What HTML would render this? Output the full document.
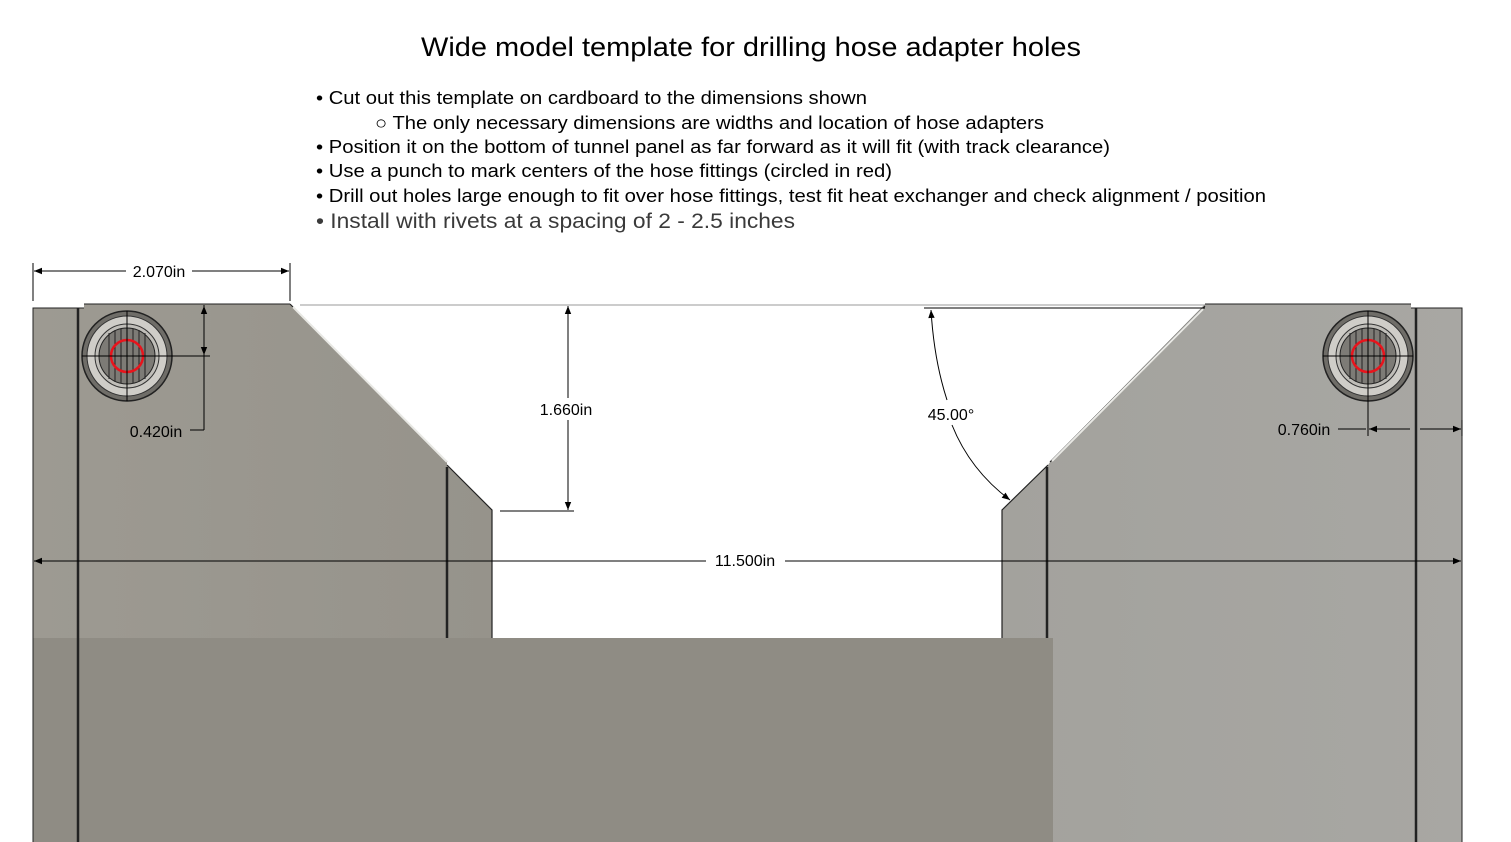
<!DOCTYPE html>
<html><head><meta charset="utf-8"><style>
html,body{margin:0;padding:0;background:#fff;}
svg{display:block;}
text{font-family:"Liberation Sans",Arial,sans-serif;fill:#000;}
</style></head><body>
<svg width="1511" height="842" viewBox="0 0 1511 842" xmlns="http://www.w3.org/2000/svg">
<defs>
<linearGradient id="gl" x1="0" x2="1" y1="0" y2="0"><stop offset="0" stop-color="#9d9a92"/><stop offset="1" stop-color="#96938b"/></linearGradient>
<linearGradient id="gr" x1="0" x2="1" y1="0" y2="0"><stop offset="0" stop-color="#a3a29d"/><stop offset="1" stop-color="#a8a7a3"/></linearGradient>
<marker id="ar" viewBox="0 0 10 10" refX="10" refY="5" markerWidth="12" markerHeight="8" orient="auto-start-reverse" markerUnits="userSpaceOnUse"><path d="M0,1 L10,5 L0,9 z" fill="#000"/></marker>
</defs>

<text x="421" y="56" font-size="27" textLength="660" lengthAdjust="spacingAndGlyphs">Wide model template for drilling hose adapter holes</text>
<text x="316" y="104" font-size="18.5" textLength="551" lengthAdjust="spacingAndGlyphs">• Cut out this template on cardboard to the dimensions shown</text>
<text x="375" y="129" font-size="18.5" textLength="669" lengthAdjust="spacingAndGlyphs">○ The only necessary dimensions are widths and location of hose adapters</text>
<text x="316" y="153" font-size="18.5" textLength="794" lengthAdjust="spacingAndGlyphs">• Position it on the bottom of tunnel panel as far forward as it will fit (with track clearance)</text>
<text x="316" y="177" font-size="18.5" textLength="576" lengthAdjust="spacingAndGlyphs">• Use a punch to mark centers of the hose fittings (circled in red)</text>
<text x="316" y="202" font-size="18.5" textLength="950" lengthAdjust="spacingAndGlyphs">• Drill out holes large enough to fit over hose fittings, test fit heat exchanger and check alignment / position</text>
<text x="316" y="228" font-size="21" textLength="479" lengthAdjust="spacingAndGlyphs" style="fill:#3a3a3a">• Install with rivets at a spacing of 2 - 2.5 inches</text>

<!-- left part -->
<path d="M33,308 L84,308 L84,304 L290,304 L447,462 L447,465 L492,510 L492,638 L33,638 Z" fill="url(#gl)"/>
<rect x="33" y="638" width="1020" height="204" fill="#8f8c84"/>
<!-- right part -->
<path d="M1462,308 L1411,308 L1411,304 L1205,304 L1050,462 L1048,465 L1002,510 L1002,638 L1053,638 L1053,842 L1462,842 Z" fill="url(#gr)"/>
<!-- edges -->
<g stroke="#222" fill="none">
<path d="M33,842 L33,308 L84,308" stroke-width="1"/>
<path d="M84,304 L290,304" stroke-width="1"/>
<path d="M290,304 L447,462 M447,465 L492,510 L492,638" stroke-width="1.2"/>
<path d="M1462,842 L1462,308 L1411,308 M1411,304 L1205,304" stroke-width="1"/>
<path d="M1205,306 L1050,462 M1048,465 L1002,510 L1002,638" stroke-width="1.2"/>
<line x1="78" y1="308" x2="78" y2="842" stroke-width="2.5"/>
<line x1="447" y1="467" x2="447" y2="638" stroke-width="2.5"/>
<line x1="1047" y1="467" x2="1047" y2="638" stroke-width="2.5"/>
<line x1="1416" y1="308" x2="1416" y2="842" stroke-width="2.5"/>
</g>
<path d="M293,307 L447,462" stroke="#e8e8e4" stroke-width="2"/>
<path d="M1203,309 L1052,461" stroke="#e8e8e4" stroke-width="2"/>

<!-- fittings -->
<g id="fit">
<circle cx="127" cy="356" r="45" fill="#6f6d68" stroke="#222" stroke-width="1.5"/>
<circle cx="127" cy="356" r="40" fill="#cfcdc8" stroke="#333"/>
<circle cx="127" cy="356" r="32" fill="#c0beb9" stroke="#333"/>
<circle cx="127" cy="356" r="28" fill="#7d7b76" stroke="#222"/>
<g stroke="#222" stroke-width="1">
<line x1="109" y1="333" x2="109" y2="379"/><line x1="115" y1="330" x2="115" y2="382"/><line x1="121" y1="329" x2="121" y2="383"/>
<line x1="133" y1="329" x2="133" y2="383"/><line x1="139" y1="330" x2="139" y2="382"/><line x1="145" y1="333" x2="145" y2="379"/>
</g>
<circle cx="127" cy="356" r="16" fill="none" stroke="#e8141c" stroke-width="2.5"/>
</g>
<line x1="82" y1="356" x2="210" y2="356" stroke="#000" stroke-width="1"/>
<line x1="127" y1="311" x2="127" y2="401" stroke="#000" stroke-width="1"/>
<use href="#fit" transform="translate(1241,0)"/>
<line x1="1323" y1="356" x2="1413" y2="356" stroke="#000" stroke-width="1"/>
<line x1="1368" y1="311" x2="1368" y2="436" stroke="#000" stroke-width="1"/>

<!-- dimensions -->
<g stroke="#000" stroke-width="1" fill="none">
<line x1="33" y1="263" x2="33" y2="301"/>
<line x1="290" y1="263" x2="290" y2="301"/>
<line x1="34" y1="271" x2="126" y2="271" marker-start="url(#ar)"/>
<line x1="192" y1="271" x2="289" y2="271" marker-end="url(#ar)"/>
<line x1="300" y1="305" x2="1205" y2="305" stroke="#999"/>
<line x1="204" y1="305" x2="204" y2="430"/>
<line x1="204" y1="306" x2="204" y2="355" marker-end="url(#ar)" marker-start="url(#ar)"/>
<line x1="190" y1="430" x2="204" y2="430"/>
<line x1="568" y1="306" x2="568" y2="398" marker-start="url(#ar)"/>
<line x1="568" y1="420" x2="568" y2="510" marker-end="url(#ar)"/>
<line x1="500" y1="511" x2="574" y2="511"/>
<line x1="924" y1="308" x2="1205" y2="308"/>
<path d="M931,310 Q934,360 947,400" marker-start="url(#ar)"/>
<path d="M952,425 Q970,470 1010,500" marker-end="url(#ar)"/>
<line x1="34" y1="561" x2="706" y2="561" marker-start="url(#ar)"/>
<line x1="785" y1="561" x2="1461" y2="561" marker-end="url(#ar)"/>
<line x1="1338" y1="429" x2="1366" y2="429"/>
<line x1="1369" y1="429" x2="1410" y2="429" marker-start="url(#ar)"/>
<line x1="1420" y1="429" x2="1461" y2="429" marker-end="url(#ar)"/>
<line x1="1462" y1="420" x2="1462" y2="436"/>
</g>
<text x="159" y="277" font-size="16" text-anchor="middle">2.070in</text>
<text x="156" y="437" font-size="16" text-anchor="middle">0.420in</text>
<text x="566" y="415" font-size="16" text-anchor="middle">1.660in</text>
<text x="951" y="420" font-size="16" text-anchor="middle">45.00°</text>
<text x="745" y="566" font-size="16" text-anchor="middle">11.500in</text>
<text x="1304" y="435" font-size="16" text-anchor="middle">0.760in</text>
</svg>
</body></html>
